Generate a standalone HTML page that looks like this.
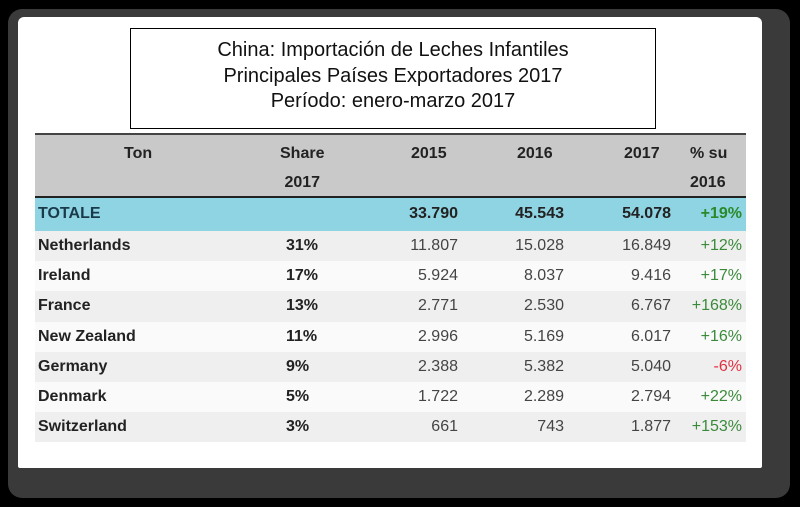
<!DOCTYPE html>
<html><head><meta charset="utf-8"><style>
body{margin:0;width:800px;height:507px;background:#000;position:relative;overflow:hidden;font-family:"Liberation Sans",sans-serif}
#frame{position:absolute;left:8px;top:9px;width:782px;height:489px;background:#3a3a3a;border-radius:14px}
#panel{position:absolute;left:18px;top:17px;width:744px;height:451px;background:#fff;border-radius:6px 6px 2px 2px}
#title{position:absolute;left:130px;top:28px;width:526px;height:101px;border:1.5px solid #000;text-align:center;font-size:20px;line-height:25.5px;padding-top:9px;box-sizing:border-box;color:#111}
.t{position:absolute;white-space:nowrap;font-size:16px;color:#444}
.b{font-weight:bold;color:#222}
.row{position:absolute;left:35px;width:711px}
</style></head><body>
<div id="frame"></div>
<div id="panel"></div>
<div id="title">China: Importación de Leches Infantiles<br>Principales Países Exportadores 2017<br>Período: enero-marzo 2017</div>
<div class="row" style="top:133px;height:65px;background:#c9c9c9;border-top:2px solid #444;border-bottom:2px solid #222;box-sizing:border-box"></div>
<div class="row" style="top:198px;height:33px;background:#8fd4e3;border-bottom:2px solid #5aa"></div>
<div id="rows"></div>
<div class="t b" style="left:124px;top:145px">Ton</div>
<div class="t b" style="left:280px;top:139px;text-align:center;line-height:29px">Share<br>2017</div>
<div class="t b" style="left:411px;top:145px">2015</div>
<div class="t b" style="left:517px;top:145px">2016</div>
<div class="t b" style="left:624px;top:145px">2017</div>
<div class="t b" style="left:690px;top:139px;line-height:29px">% su<br>2016</div>
<script>
const countries=["Netherlands","Ireland","France","New Zealand","Germany","Denmark","Switzerland"];
const shares=["31%","17%","13%","11%","9%","5%","3%"];
const v2015=["11.807","5.924","2.771","2.996","2.388","1.722","661"];
const v2016=["15.028","8.037","2.530","5.169","5.382","2.289","743"];
const v2017=["16.849","9.416","6.767","6.017","5.040","2.794","1.877"];
const pct=["+12%","+17%","+168%","+16%","-6%","+22%","+153%"];
const total=["33.790","45.543","54.078","+19%"];
const R=document.getElementById('rows');
function txt(s,x,y,cls,right,color,name){
 const d=document.createElement('div');d.className='t '+cls;d.textContent=s;
 
 
 d.style.top=y+'px';
 if(right){d.style.right=(800-x)+'px';}else d.style.left=x+'px';
 if(color)d.style.color=color;
 R.appendChild(d);
}
txt("TOTALE",38,205,'b',false,'#1a3a4a','total-label');
txt(total[0],458,205,'b',true,null,'total-2015');
txt(total[1],564,205,'b',true,null,'total-2016');
txt(total[2],671,205,'b',true,null,'total-2017');
txt(total[3],742,205,'b',true,'#2a8a2a','total-pct');
countries.forEach((c,i)=>{
 const y=231+i*30.2;
 const bg=document.createElement('div');bg.className='row';
 
 
 bg.style.top=y+'px';bg.style.height='30.2px';bg.style.background=i%2?'#fafafa':'#efefef';
 R.appendChild(bg);
 const ty=y+6;
 txt(c,38,ty,'b',false,null,'country-name');
 txt(shares[i],286,ty,'b',false,null,'share-value');
 txt(v2015[i],458,ty,'',true,null,'value-2015');
 txt(v2016[i],564,ty,'',true,null,'value-2016');
 txt(v2017[i],671,ty,'',true,null,'value-2017');
 txt(pct[i],742,ty,'',true,pct[i][0]=='-'?'#e03040':'#3a8a3a','pct-change');
});
</script>
</body></html>
